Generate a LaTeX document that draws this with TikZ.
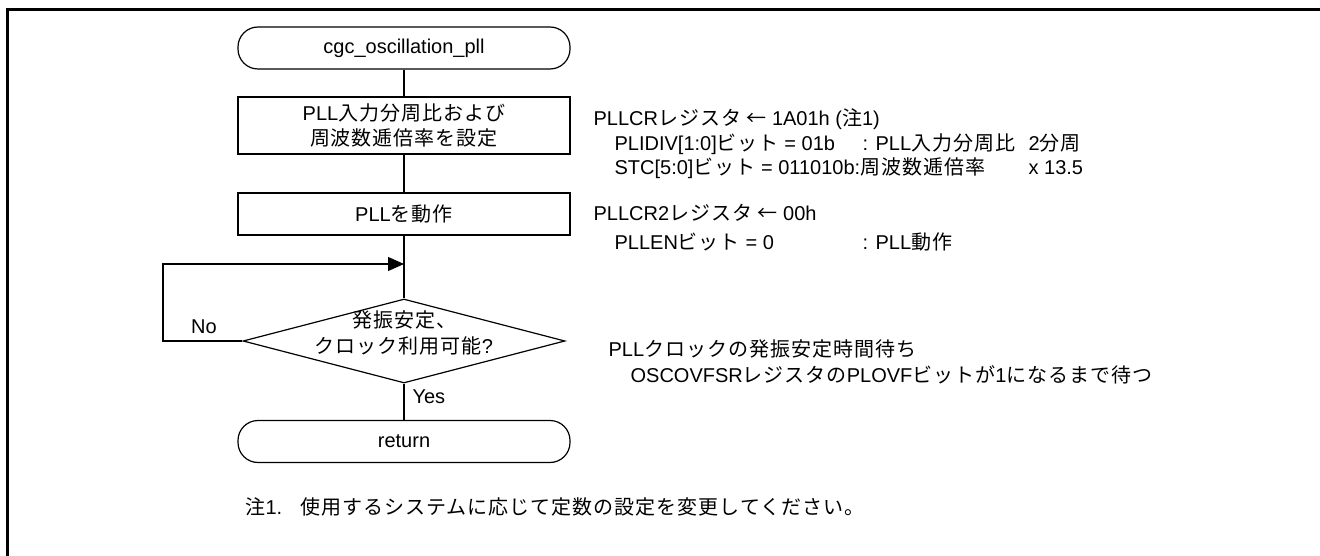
\documentclass[tikz,border=0pt]{standalone}
\usepackage{fontspec}
\setmainfont{Liberation Sans}
\newfontfamily\jpf[LetterSpace=5]{Noto Sans CJK JP}
\newcommand\jp[1]{{\jpf #1}}
\usetikzlibrary{arrows.meta,shapes.geometric}
\begin{document}
\begin{tikzpicture}[x=1pt,y=-1pt,
  font=\fontsize{20}{24.5}\selectfont,
  line width=1.2pt,
  term/.style={draw, rounded corners=20pt, minimum width=332pt, minimum height=42pt, inner sep=0pt},
  proc/.style={draw, minimum width=332pt, inner sep=0pt, align=center},
  dec/.style={draw, diamond, minimum width=322pt, minimum height=84pt, inner sep=0pt},
  ann/.style={anchor=north west, inner sep=0pt, align=left},
  lbl/.style={inner sep=0pt},
  arr/.style={-{Triangle[length=16pt,width=14pt]}}
]
\useasboundingbox (0,0) rectangle (1320,556);
\fill[white] (0,0) rectangle (1320,556);
% frame
\draw[line width=2.8pt] (1320,9.5) -- (7.3,9.5) -- (7.3,556);

\node[term] (start) at (404,48) {cgc\_oscillation\_pll};
\node[proc, minimum height=57pt] (set) at (404,125.5) {PLL\jp{入力分周比および}\\\jp{周波数逓倍率を設定}};
\node[proc, minimum height=42pt] (run) at (404,214) {PLL\jp{を動作}};
\node[dec] (chk) at (404,341) {\raisebox{0pt}[0pt][0pt]{\makebox[0pt]{\begin{tabular}{@{}c@{}}\jp{発振安定、}\\[2pt]\jp{クロック利用可能}?\end{tabular}}}};
\node[term] (ret) at (404,441.5) {return};

\coordinate (lp) at (163,264);
\coordinate (j) at (404,264);

\draw (start) -- (set);
\draw (set) -- (run);
\draw (run) -- (chk);
\draw (chk) -- (ret);
\draw[arr] (chk.west) -| (lp) -- (j);

\node[lbl] (no) at (204,327) {No};
\node[lbl, anchor=west] (yes) at (412,397) {Yes};

\node[ann] (a1) at (593,108) {\begin{tabular}{@{}l@{}}
PLLCR\jp{レジスタ ← }1A01h (\jp{注}1)\\
\hspace*{21pt}\makebox[248pt][l]{PLIDIV[1:0]\jp{ビット} = 01b}\makebox[166pt][l]{: PLL\jp{入力分周比}}2\jp{分周}\\
\hspace*{21pt}\makebox[414pt][l]{STC[5:0]\jp{ビット} = 011010b:\jp{周波数逓倍率}}x 13.5
\end{tabular}};

\node[ann] (a2) at (593,203) {\begin{tabular}{@{}l@{}}
PLLCR2\jp{レジスタ ← }00h\\[4pt]
\hspace*{21pt}\makebox[248pt][l]{PLLEN\jp{ビット} = 0}: PLL\jp{動作}
\end{tabular}};

\node[ann] (a3) at (608,339) {\begin{tabular}{@{}l@{}}
PLL\jp{クロックの発振安定時間待ち}\\[1.5pt]
\hspace*{22pt}OSCOVFSR\jp{レジスタの}PLOVF\jp{ビットが}1\jp{になるまで待つ}
\end{tabular}};

\node[lbl, anchor=west] (note) at (245,507) {\jp{注}1.\hspace{18pt}\jp{使用するシステムに応じて定数の設定を変更してください。}};
\end{tikzpicture}
\end{document}
